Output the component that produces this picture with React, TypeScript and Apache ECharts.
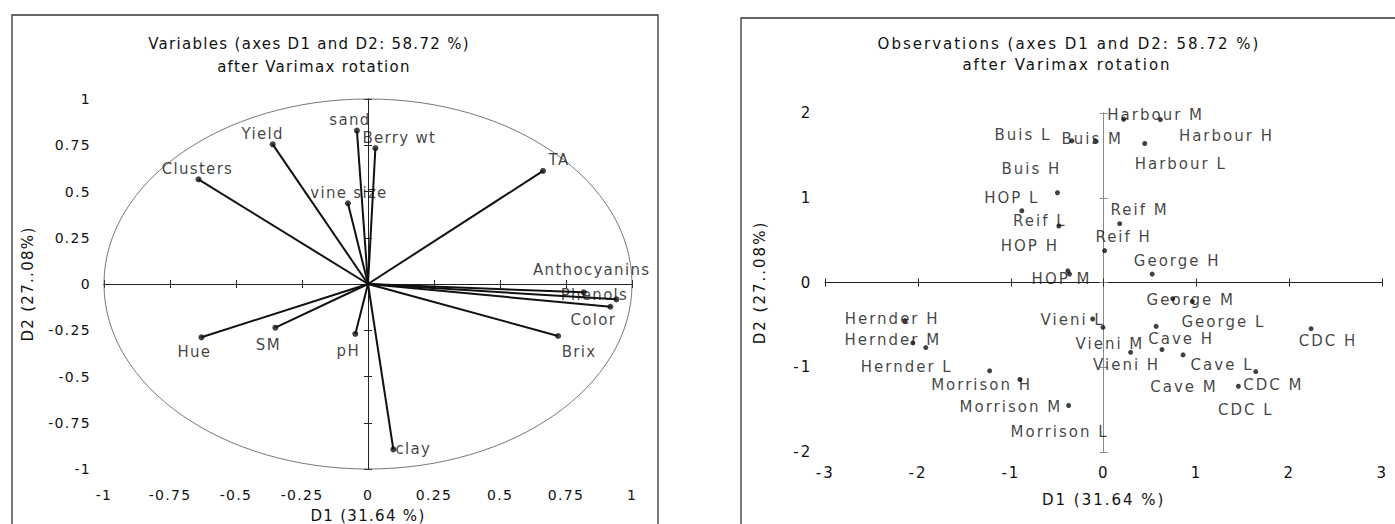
import React, { useEffect, useRef } from 'react';
import * as echarts from 'echarts';

// ---------- Data: variables (correlation circle) ----------
const VAR_NAMES = ['Clusters', 'Yield', 'sand', 'Berry wt', 'vine size', 'TA', 'Anthocyanins', 'Phenols', 'Color', 'Brix', 'Hue', 'SM', 'pH', 'clay'];
const VAR_D1 = [-0.642, -0.361, -0.042, 0.028, -0.076, 0.663, 0.817, 0.941, 0.918, 0.72, -0.631, -0.351, -0.048, 0.096];
const VAR_D2 = [0.566, 0.755, 0.829, 0.734, 0.436, 0.611, -0.045, -0.083, -0.123, -0.281, -0.288, -0.236, -0.27, -0.894];

// ---------- Data: observations ----------
const OBS_NAMES = ['Harbour M', 'Harbour H', 'Harbour L', 'Buis L', 'Buis M', 'Buis H', 'HOP L', 'Reif L', 'Reif M', 'Reif H', 'HOP H', 'HOP M', 'George H', 'George M', 'George L', 'Vieni L', 'Vieni M', 'Vieni H', 'Cave H', 'Cave M', 'Cave L', 'CDC H', 'CDC L', 'CDC M', 'Hernder H', 'Hernder M', 'Hernder L', 'Morrison H', 'Morrison M', 'Morrison L'];
const OBS_D1 = [0.215, 0.611, 0.442, -0.342, -0.091, -0.498, -0.882, -0.483, 0.172, 0.01, -0.386, -0.368, 0.522, 0.744, 0.955, -0.119, -0.008, 0.29, 0.565, 0.628, 0.855, 2.234, 1.638, 1.451, -2.139, -2.056, -1.917, -1.229, -0.903, -0.378];
const OBS_D2 = [1.926, 1.922, 1.64, 1.671, 1.671, 1.059, 0.847, 0.667, 0.694, 0.376, 0.138, 0.099, 0.099, -0.192, -0.224, -0.431, -0.529, -0.824, -0.518, -0.792, -0.854, -0.545, -1.051, -1.224, -0.451, -0.713, -0.768, -1.042, -1.145, -1.451];

// ---------- Axis settings ----------
const LEFT_RANGE = { min: -1, max: 1, interval: 0.25 };
const RIGHT_X = { min: -3, max: 3, interval: 1 };
const RIGHT_Y = { min: -2, max: 2, interval: 1 };
const CIRCLE_RADIUS = 1;
const X_NAME = 'D1 (31.64 %)';
const Y_NAME = 'D2 (27..08%)';
const LEFT_TITLE = ['Variables (axes D1 and D2: 58.72 %)', 'after Varimax rotation'];
const RIGHT_TITLE = ['Observations (axes D1 and D2: 58.72 %)', 'after Varimax rotation'];

// ---------- Label layout (pixel offsets of each label from its point) ----------
const VAR_LABEL_OFFSETS = [[-1, -10], [-10, -10], [-7, -11], [24, -10], [1, -10], [16, -11], [8, -22], [-22, -4], [-17, 13], [21, 16], [-7, 15], [-7, 17], [-7, 17], [20, 0]];
const OBS_LABEL_OFFSETS = [[32, -4], [66, 16], [36, 20], [-49, -6], [-3, -2], [-26, -24], [-10, -13], [-19, -5], [20, -14], [19, -14], [-38, -25], [-8, 5], [25, -13], [18, 1], [31, 21], [-20, 1], [7, 17], [-4, 13], [25, 13], [22, 37], [39, 10], [17, 12], [-10, 38], [35, -1], [-13, -2], [-20, -3], [-19, 19], [-8, 14], [-9, 27], [-9, 27]];

const FONT = 'DejaVu Sans';
const TEXT = '#111111';

function labelAxis(r: any, position: string, name: string, nameGap: number, margin: number, fontSize: number) {
  return {
    type: 'value', min: r.min, max: r.max, interval: r.interval, position,
    axisLine: { show: false, onZero: false }, axisTick: { show: false }, splitLine: { show: false },
    axisLabel: { margin, fontSize, color: TEXT, fontFamily: FONT },
    name, nameLocation: 'middle', nameGap,
    nameTextStyle: { fontSize: 15, color: TEXT, fontFamily: FONT },
  };
}

function lineAxis(r: any, position: string, inside: boolean, color: string) {
  return {
    type: 'value', min: r.min, max: r.max, interval: r.interval, position,
    axisLine: { show: true, onZero: true, onZeroAxisIndex: 0, lineStyle: { color, width: 1 } },
    axisTick: { show: true, inside, length: 4, lineStyle: { color, width: 1 } },
    axisLabel: { show: false }, splitLine: { show: false },
  };
}

function titleTexts(lines: string[], xs: number[], ys: number[]) {
  return lines.map((t, i) => ({
    type: 'text', x: xs[i], y: ys[i], silent: true,
    style: { text: t, align: 'center', verticalAlign: 'middle', fontSize: 15, fontFamily: FONT, fill: TEXT },
  }));
}

function leftOption(): any {
  const points = VAR_NAMES.map((n, i) => ({
    name: n,
    value: [VAR_D1[i], VAR_D2[i]],
    label: { offset: VAR_LABEL_OFFSETS[i] },
  }));
  return {
    animation: false,
    backgroundColor: '#ffffff',
    textStyle: { fontFamily: FONT, color: TEXT },
    grid: { left: 104, top: 99, width: 528, height: 370, containLabel: false, outerBoundsMode: 'none' },
    xAxis: [
      labelAxis(LEFT_RANGE, 'bottom', X_NAME, 39, 19, 14),
      lineAxis(LEFT_RANGE, 'bottom', false, '#222'),
      lineAxis(LEFT_RANGE, 'bottom', true, '#222'),
    ],
    yAxis: [
      labelAxis(LEFT_RANGE, 'left', Y_NAME, 69, 13, 14),
      lineAxis(LEFT_RANGE, 'left', false, '#222'),
      lineAxis(LEFT_RANGE, 'left', true, '#222'),
    ],
    graphic: [
      { type: 'rect', silent: true, z: -1, shape: { x: 12, y: 15, width: 646, height: 530 }, style: { fill: 'none', stroke: '#333', lineWidth: 1.3 } },
      ...titleTexts(LEFT_TITLE, [309, 314], [43.5, 66.5]),
    ],
    series: [
      {
        type: 'custom', z: 1, silent: true,
        data: [[0, 0]],
        renderItem: (_p: any, api: any) => {
          const c = api.coord([0, 0]);
          const e = api.coord([CIRCLE_RADIUS, CIRCLE_RADIUS]);
          return {
            type: 'ellipse',
            shape: { cx: c[0], cy: c[1], rx: e[0] - c[0], ry: c[1] - e[1] },
            style: { fill: 'none', stroke: '#555', lineWidth: 0.8 },
          };
        },
      },
      {
        type: 'custom', z: 2, silent: true,
        data: VAR_NAMES.map((_n, i) => [VAR_D1[i], VAR_D2[i]]),
        renderItem: (_p: any, api: any) => {
          const o = api.coord([0, 0]);
          const p = api.coord([api.value(0), api.value(1)]);
          return {
            type: 'line',
            shape: { x1: o[0], y1: o[1], x2: p[0], y2: p[1] },
            style: { stroke: '#111', lineWidth: 2 },
          };
        },
      },
      {
        type: 'scatter', z: 3, silent: true,
        symbol: 'circle', symbolSize: 6,
        itemStyle: { color: '#111' },
        data: points,
        label: {
          show: true, formatter: '{b}', position: 'inside',
          align: 'center', verticalAlign: 'middle',
          fontSize: 15, fontFamily: FONT, color: TEXT,
        },
      },
    ],
  };
}

function rightOption(): any {
  const points = OBS_NAMES.map((n, i) => ({
    name: n,
    value: [OBS_D1[i], OBS_D2[i]],
    label: { offset: OBS_LABEL_OFFSETS[i] },
  }));
  return {
    animation: false,
    backgroundColor: '#ffffff',
    textStyle: { fontFamily: FONT, color: TEXT },
    grid: { left: 125.2, top: 113, width: 557, height: 339, containLabel: false, outerBoundsMode: 'none' },
    xAxis: [
      labelAxis(RIGHT_X, 'bottom', X_NAME, 40, 13, 15),
      lineAxis(RIGHT_X, 'bottom', false, '#222'),
      lineAxis(RIGHT_X, 'bottom', true, '#222'),
    ],
    yAxis: [
      labelAxis(RIGHT_Y, 'left', Y_NAME, 58, 13, 15),
      lineAxis(RIGHT_Y, 'left', false, '#8a8a8a'),
      lineAxis(RIGHT_Y, 'left', true, '#8a8a8a'),
    ],
    graphic: [
      { type: 'rect', silent: true, z: -1, shape: { x: 41, y: 18, width: 720, height: 530 }, style: { fill: 'none', stroke: '#333', lineWidth: 1.3 } },
      ...titleTexts(RIGHT_TITLE, [369, 367], [43.5, 65]),
    ],
    series: [
      {
        type: 'scatter', z: 3, silent: true,
        symbol: 'circle', symbolSize: 5,
        itemStyle: { color: '#111' },
        data: points,
        label: {
          show: true, formatter: '{b}', position: 'inside',
          align: 'center', verticalAlign: 'middle',
          fontSize: 15, fontFamily: FONT, color: TEXT,
        },
      },
    ],
  };
}

export default function App() {
  const leftRef = useRef<HTMLDivElement>(null);
  const rightRef = useRef<HTMLDivElement>(null);
  useEffect(() => {
    const l = echarts.init(leftRef.current as HTMLDivElement, undefined, { renderer: 'svg' });
    l.setOption(leftOption());
    const r = echarts.init(rightRef.current as HTMLDivElement, undefined, { renderer: 'svg' });
    r.setOption(rightOption());
    return () => {
      l.dispose();
      r.dispose();
    };
  }, []);
  return (
    <div style={{ position: 'absolute', left: 0, top: 0, width: 1395, height: 524, background: '#fff', overflow: 'hidden' }}>
      <div ref={leftRef} style={{ position: 'absolute', left: 0, top: 0, width: 700, height: 524, letterSpacing: '1.3px' }} />
      <div ref={rightRef} style={{ position: 'absolute', left: 700, top: 0, width: 695, height: 524, letterSpacing: '2px' }} />
    </div>
  );
}
